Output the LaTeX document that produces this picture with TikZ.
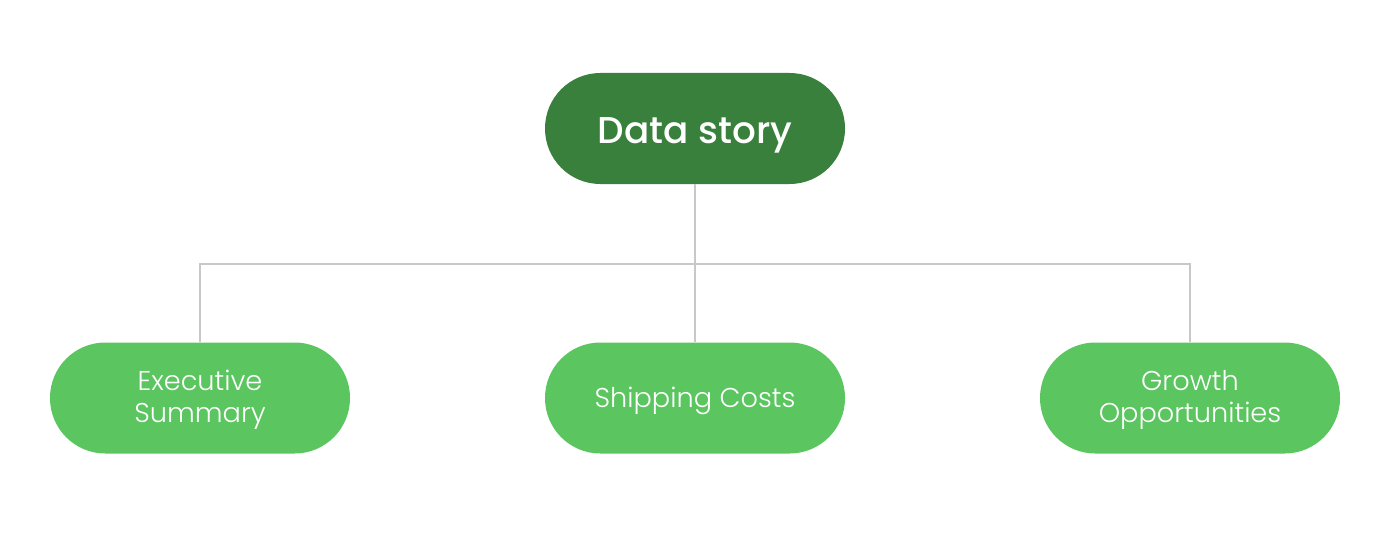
\documentclass[tikz,border=0pt]{standalone}
\usepackage{fontspec}
\setmainfont{Poppins}
\newfontfamily\popmed{Poppins Medium}
\newfontfamily\poplight{Poppins Light}
\definecolor{darkg}{HTML}{38803C}
\definecolor{lightg}{HTML}{5BC560}
\definecolor{linec}{HTML}{C8C8C8}
\begin{document}
\begin{tikzpicture}[x=0.75pt,y=-0.75pt,
  pill/.style={fill=#1,minimum width=225pt,minimum height=83.25pt,rounded corners=41.5pt,inner sep=0pt},
  txt/.style={text=white,align=center,inner sep=0pt},
  conn/.style={draw=linec,line width=1.5pt}]
\useasboundingbox (0,0) rectangle (1398,542);
\node[pill=darkg] (top) at (695,128.5) {};
\node[pill=lightg] (exec) at (200,398) {};
\node[pill=lightg] (ship) at (695,398) {};
\node[pill=lightg] (grow) at (1190,398) {};
\node[txt,font=\popmed\fontsize{28}{34}\selectfont,yshift=-5pt] (toplbl) at (top.center) {Data story};
\node[txt,font=\poplight\fontsize{20.4}{24.2}\selectfont,yshift=-1.5pt] (execlbl) at (exec.center) {Executive\\Summary};
\node[txt,font=\poplight\fontsize{20.4}{24.2}\selectfont,yshift=-2.25pt] (shiplbl) at (ship.center) {Shipping Costs};
\node[txt,font=\poplight\fontsize{20.4}{24.2}\selectfont,yshift=-1.5pt] (growlbl) at (grow.center) {Growth\\Opportunities};
\coordinate (j) at (695,264);
\begin{scope}[on background layer/.try]
\draw[conn] (top.south) -- (ship.north);
\draw[conn] (exec.north) |- (j) -| (grow.north);
\end{scope}
\end{tikzpicture}
\end{document}
